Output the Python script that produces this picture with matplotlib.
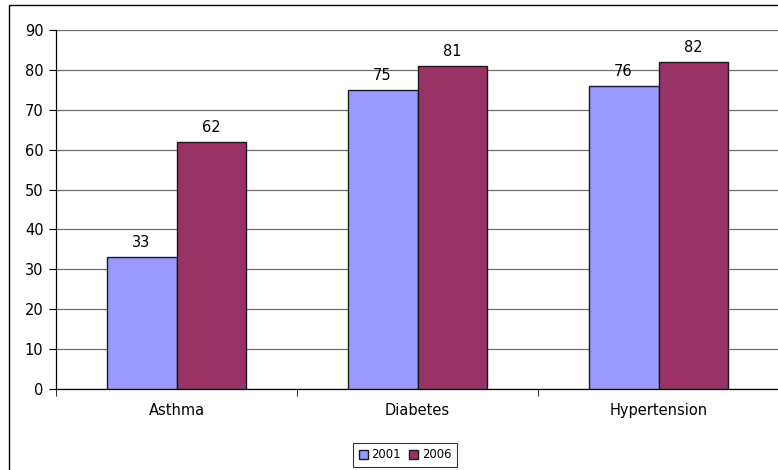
import numpy as np
import matplotlib.pyplot as plt
from matplotlib.patches import Rectangle

categories = ["Asthma", "Diabetes", "Hypertension"]
years = ["2001", "2006"]
values_2001 = [33, 75, 76]
values_2006 = [62, 81, 82]

# the original is a horizontally stretched Arial; DejaVu's wider glyphs match its footprint
plt.rcParams['font.family'] = ['DejaVu Sans']

fig = plt.figure(figsize=(7.78, 4.70), dpi=100)
ax = fig.add_axes([56 / 778, 81 / 470, 723 / 778, 359 / 470])

# outer chart frame (clipped on right and bottom like the original)
fig.patches.append(Rectangle((9 / 778, -0.05), 1.2, (465 / 470) + 0.05,
                             transform=fig.transFigure, fill=False,
                             edgecolor='black', lw=1.0))

x = np.arange(len(categories))
w = 0.29
b1 = ax.bar(x - w / 2, values_2001, w, color='#9999FF', edgecolor='#1a1a1a', lw=1.0,
            label=years[0], zorder=3)
b2 = ax.bar(x + w / 2, values_2006, w, color='#993366', edgecolor='#1a1a1a', lw=1.0,
            label=years[1], zorder=3)

for bars, vals in [(b1, values_2001), (b2, values_2006)]:
    for r, v in zip(bars, vals):
        ax.annotate(str(v), (r.get_x() + r.get_width() / 2, v), xytext=(0, 5),
                    textcoords='offset points', ha='center', va='bottom',
                    fontsize=10.5, zorder=4)

ax.set_xlim(-0.5, len(categories) - 0.5)
ax.set_ylim(0, 90)
ax.set_yticks(np.arange(0, 91, 10))
ax.set_xticks(x)
ax.set_xticklabels(categories)
ax.set_xticks(np.arange(-0.5, len(categories), 1), minor=True)
ax.tick_params(axis='x', which='major', length=0, pad=10, labelsize=10.5)
ax.tick_params(axis='x', which='minor', length=5, direction='out')
ax.tick_params(axis='y', length=5, direction='out', labelsize=10.5, pad=4)
ax.yaxis.grid(True, color='#6e6e6e', lw=0.9, zorder=0)
ax.set_axisbelow(True)
for s in ['top', 'right']:
    ax.spines[s].set_visible(False)
ax.spines['left'].set_linewidth(0.9)
ax.spines['bottom'].set_linewidth(0.9)

leg = fig.legend(loc='center', bbox_to_anchor=(405 / 778, 1 - 455 / 470), ncol=2,
                 fontsize=8.4, frameon=True, fancybox=False, edgecolor='black',
                 handlelength=0.8, handleheight=0.8, handletextpad=0.3,
                 columnspacing=0.7, borderpad=0.45, borderaxespad=0)
leg.get_frame().set_linewidth(0.8)

fig.savefig('out.png', dpi=100)
